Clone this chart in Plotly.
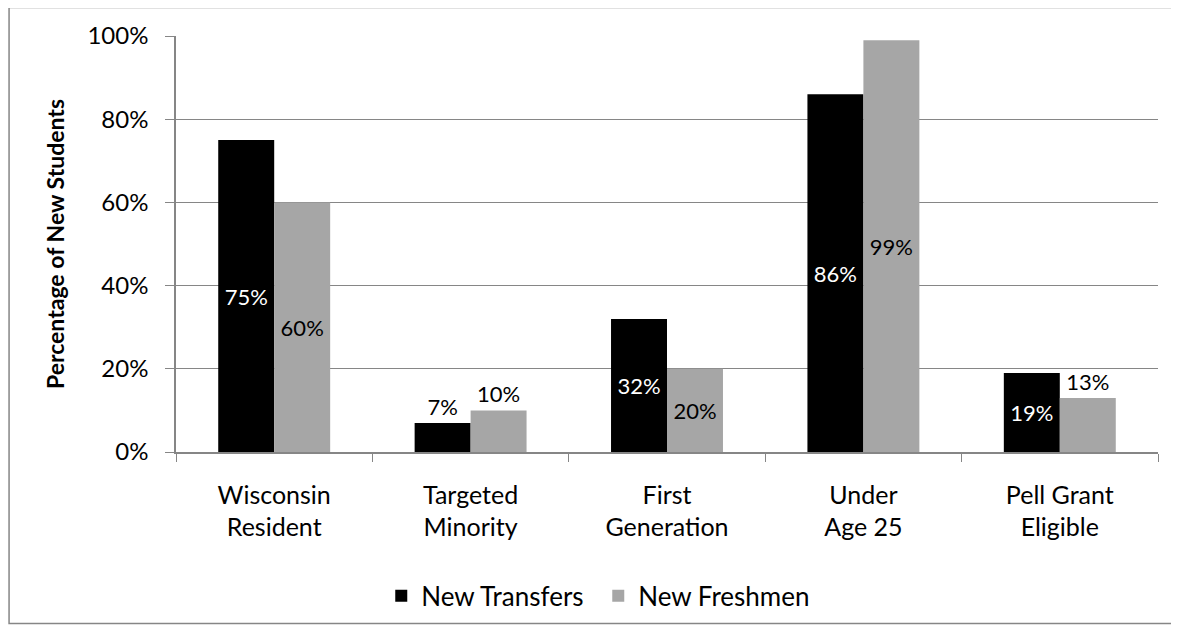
import plotly.graph_objects as go

categories = ["Wisconsin<br>Resident", "Targeted<br>Minority", "First<br>Generation", "Under<br>Age 25", "Pell Grant<br>Eligible"]
transfers = [75, 7, 32, 86, 19]
freshmen = [60, 10, 20, 99, 13]
series_names = ["New Transfers", "New Freshmen"]
y_ticks = [0, 20, 40, 60, 80, 100]
y_tick_labels = ["0%", "20%", "40%", "60%", "80%", "100%"]

FONT = "Lato"
GRID = "#868686"

def positions(vals):
    return ["outside" if v < 15 else "inside" for v in vals]

fig = go.Figure()
fig.add_trace(go.Bar(
    x=categories, y=transfers, name=series_names[0],
    marker=dict(color="#000000", line=dict(width=0)),
    text=[f"{v}%" for v in transfers], textposition=positions(transfers),
    insidetextanchor="middle", constraintext="none",
    insidetextfont=dict(color="white", size=22, family=FONT),
    outsidetextfont=dict(color="black", size=22, family=FONT),
    cliponaxis=False,
))
fig.add_trace(go.Bar(
    x=categories, y=freshmen, name=series_names[1],
    marker=dict(color="#a6a6a6", line=dict(width=0)),
    text=[f"{v}%" for v in freshmen], textposition=positions(freshmen),
    insidetextanchor="middle", constraintext="none",
    insidetextfont=dict(color="black", size=22, family=FONT),
    outsidetextfont=dict(color="black", size=22, family=FONT),
    cliponaxis=False,
))

fig.update_layout(
    width=1171, height=623,
    paper_bgcolor="white", plot_bgcolor="white",
    margin=dict(l=168, r=21, t=24, b=177),
    barmode="group", bargap=0.43, bargroupgap=0,
    font=dict(family=FONT, size=22, color="black"),
    showlegend=True,
    legend=dict(orientation="h", x=0.43, xanchor="center", y=-0.346, yanchor="middle",
                font=dict(size=26, family=FONT), itemsizing="constant", traceorder="normal",
                entrywidth=172),
    xaxis=dict(showline=True, linecolor=GRID, linewidth=1.5, ticks="outside", tickson="boundaries",
               ticklen=8, tickcolor=GRID, tickfont=dict(size=25, family=FONT), showgrid=False,
               ticklabelstandoff=20),
    yaxis=dict(range=[0, 100], tickvals=y_ticks, ticktext=y_tick_labels, showline=True,
               linecolor=GRID, linewidth=1.5, ticks="outside", ticklen=9, tickcolor=GRID,
               showgrid=True, gridcolor=GRID, gridwidth=1, tickfont=dict(size=24, family=FONT),
               ticklabelstandoff=12,
               title=dict(text="<b>Percentage of New Students</b>", font=dict(size=23, family=FONT), standoff=16),
               zeroline=False),
    shapes=[dict(type="rect", xref="paper", yref="paper", x0=-0.1700, x1=1.0143, y0=-0.4123, y1=1.0687,
                 line=dict(color=GRID, width=1.5), fillcolor="rgba(0,0,0,0)", layer="below")],
)

fig.write_html("out.html")
